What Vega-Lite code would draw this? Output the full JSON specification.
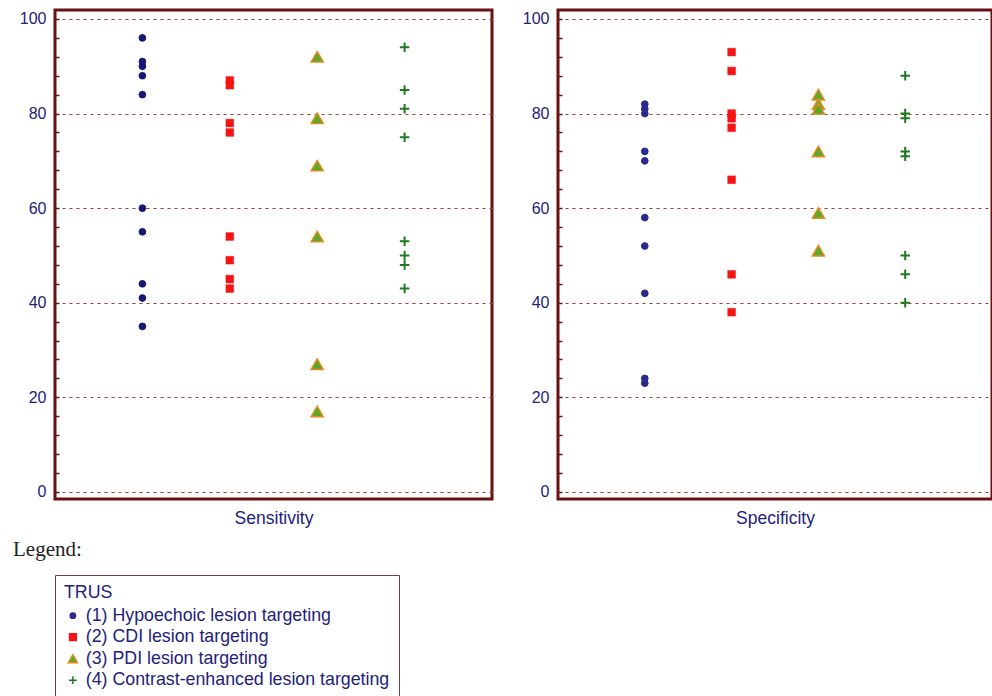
{
  "$schema": "https://vega.github.io/schema/vega-lite/v6.json",
  "padding": {"left": 13, "top": 8, "right": 0, "bottom": 0},
  "background": "white",
  "datasets": {
    "pts": [
      {"m": "Sensitivity", "g": "(1) Hypoechoic lesion targeting", "v": 96},
      {"m": "Sensitivity", "g": "(1) Hypoechoic lesion targeting", "v": 91},
      {"m": "Sensitivity", "g": "(1) Hypoechoic lesion targeting", "v": 90},
      {"m": "Sensitivity", "g": "(1) Hypoechoic lesion targeting", "v": 88},
      {"m": "Sensitivity", "g": "(1) Hypoechoic lesion targeting", "v": 84},
      {"m": "Sensitivity", "g": "(1) Hypoechoic lesion targeting", "v": 60},
      {"m": "Sensitivity", "g": "(1) Hypoechoic lesion targeting", "v": 55},
      {"m": "Sensitivity", "g": "(1) Hypoechoic lesion targeting", "v": 44},
      {"m": "Sensitivity", "g": "(1) Hypoechoic lesion targeting", "v": 41},
      {"m": "Sensitivity", "g": "(1) Hypoechoic lesion targeting", "v": 35},
      {"m": "Sensitivity", "g": "(2) CDI lesion targeting", "v": 87},
      {"m": "Sensitivity", "g": "(2) CDI lesion targeting", "v": 86},
      {"m": "Sensitivity", "g": "(2) CDI lesion targeting", "v": 78},
      {"m": "Sensitivity", "g": "(2) CDI lesion targeting", "v": 76},
      {"m": "Sensitivity", "g": "(2) CDI lesion targeting", "v": 54},
      {"m": "Sensitivity", "g": "(2) CDI lesion targeting", "v": 49},
      {"m": "Sensitivity", "g": "(2) CDI lesion targeting", "v": 45},
      {"m": "Sensitivity", "g": "(2) CDI lesion targeting", "v": 43},
      {"m": "Sensitivity", "g": "(3) PDI lesion targeting", "v": 92},
      {"m": "Sensitivity", "g": "(3) PDI lesion targeting", "v": 79},
      {"m": "Sensitivity", "g": "(3) PDI lesion targeting", "v": 69},
      {"m": "Sensitivity", "g": "(3) PDI lesion targeting", "v": 54},
      {"m": "Sensitivity", "g": "(3) PDI lesion targeting", "v": 27},
      {"m": "Sensitivity", "g": "(3) PDI lesion targeting", "v": 17},
      {"m": "Sensitivity", "g": "(4) Contrast-enhanced lesion targeting", "v": 94},
      {"m": "Sensitivity", "g": "(4) Contrast-enhanced lesion targeting", "v": 85},
      {"m": "Sensitivity", "g": "(4) Contrast-enhanced lesion targeting", "v": 81},
      {"m": "Sensitivity", "g": "(4) Contrast-enhanced lesion targeting", "v": 75},
      {"m": "Sensitivity", "g": "(4) Contrast-enhanced lesion targeting", "v": 53},
      {"m": "Sensitivity", "g": "(4) Contrast-enhanced lesion targeting", "v": 50},
      {"m": "Sensitivity", "g": "(4) Contrast-enhanced lesion targeting", "v": 48},
      {"m": "Sensitivity", "g": "(4) Contrast-enhanced lesion targeting", "v": 43},
      {"m": "Specificity", "g": "(1) Hypoechoic lesion targeting", "v": 82},
      {"m": "Specificity", "g": "(1) Hypoechoic lesion targeting", "v": 81},
      {"m": "Specificity", "g": "(1) Hypoechoic lesion targeting", "v": 80},
      {"m": "Specificity", "g": "(1) Hypoechoic lesion targeting", "v": 72},
      {"m": "Specificity", "g": "(1) Hypoechoic lesion targeting", "v": 70},
      {"m": "Specificity", "g": "(1) Hypoechoic lesion targeting", "v": 58},
      {"m": "Specificity", "g": "(1) Hypoechoic lesion targeting", "v": 52},
      {"m": "Specificity", "g": "(1) Hypoechoic lesion targeting", "v": 42},
      {"m": "Specificity", "g": "(1) Hypoechoic lesion targeting", "v": 24},
      {"m": "Specificity", "g": "(1) Hypoechoic lesion targeting", "v": 23},
      {"m": "Specificity", "g": "(2) CDI lesion targeting", "v": 93},
      {"m": "Specificity", "g": "(2) CDI lesion targeting", "v": 89},
      {"m": "Specificity", "g": "(2) CDI lesion targeting", "v": 80},
      {"m": "Specificity", "g": "(2) CDI lesion targeting", "v": 79},
      {"m": "Specificity", "g": "(2) CDI lesion targeting", "v": 77},
      {"m": "Specificity", "g": "(2) CDI lesion targeting", "v": 66},
      {"m": "Specificity", "g": "(2) CDI lesion targeting", "v": 46},
      {"m": "Specificity", "g": "(2) CDI lesion targeting", "v": 38},
      {"m": "Specificity", "g": "(3) PDI lesion targeting", "v": 84},
      {"m": "Specificity", "g": "(3) PDI lesion targeting", "v": 82},
      {"m": "Specificity", "g": "(3) PDI lesion targeting", "v": 81},
      {"m": "Specificity", "g": "(3) PDI lesion targeting", "v": 72},
      {"m": "Specificity", "g": "(3) PDI lesion targeting", "v": 59},
      {"m": "Specificity", "g": "(3) PDI lesion targeting", "v": 51},
      {"m": "Specificity", "g": "(4) Contrast-enhanced lesion targeting", "v": 88},
      {"m": "Specificity", "g": "(4) Contrast-enhanced lesion targeting", "v": 80},
      {"m": "Specificity", "g": "(4) Contrast-enhanced lesion targeting", "v": 79},
      {"m": "Specificity", "g": "(4) Contrast-enhanced lesion targeting", "v": 72},
      {"m": "Specificity", "g": "(4) Contrast-enhanced lesion targeting", "v": 71},
      {"m": "Specificity", "g": "(4) Contrast-enhanced lesion targeting", "v": 50},
      {"m": "Specificity", "g": "(4) Contrast-enhanced lesion targeting", "v": 46},
      {"m": "Specificity", "g": "(4) Contrast-enhanced lesion targeting", "v": 40}
    ]
  },
  "vconcat": [
    {
      "hconcat": [
        {
          "width": 437,
          "height": 489,
          "data": {"name": "pts"},
          "transform": [{"filter": "datum.m == 'Sensitivity'"}],
          "mark": {"type": "point", "filled": true, "opacity": 1},
          "encoding": {
            "x": {"field": "g", "type": "nominal", "sort": null,
              "scale": {"type": "point", "padding": 1},
              "axis": {"title": "Sensitivity", "labels": false, "ticks": false, "domain": false, "grid": false}},
            "y": {"field": "v", "type": "quantitative",
              "scale": {"domain": [-1.5, 101.9], "nice": false, "zero": false},
              "axis": {"title": null,
                "values": [0, 4, 8, 12, 16, 20, 24, 28, 32, 36, 40, 44, 48, 52, 56, 60, 64, 68, 72, 76, 80, 84, 88, 92, 96, 100],
                "labelExpr": "datum.value % 20 == 0 ? datum.label : ''",
                "grid": true,
                "gridOpacity": {"condition": {"test": "datum.value % 20 == 0", "value": 1}, "value": 0}}},
            "fill": {"field": "g", "type": "nominal", "legend": null,
              "scale": {"domain": ["(1) Hypoechoic lesion targeting", "(2) CDI lesion targeting", "(3) PDI lesion targeting", "(4) Contrast-enhanced lesion targeting"],
                "range": ["#16167a", "#f51414", "#5aaa2a", "#1e7a1e"]}},
            "stroke": {"field": "g", "type": "nominal", "legend": null,
              "scale": {"domain": ["(1) Hypoechoic lesion targeting", "(2) CDI lesion targeting", "(3) PDI lesion targeting", "(4) Contrast-enhanced lesion targeting"],
                "range": ["#16167a", "#f51414", "#e8891e", "#1e7a1e"]}},
            "shape": {"field": "g", "type": "nominal", "legend": null,
              "scale": {"domain": ["(1) Hypoechoic lesion targeting", "(2) CDI lesion targeting", "(3) PDI lesion targeting", "(4) Contrast-enhanced lesion targeting"],
                "range": ["circle", "square", "triangle-up", "M-1,0H1M0,-1V1"]}},
            "size": {"field": "g", "type": "nominal", "legend": null,
              "scale": {"type": "ordinal", "domain": ["(1) Hypoechoic lesion targeting", "(2) CDI lesion targeting", "(3) PDI lesion targeting", "(4) Contrast-enhanced lesion targeting"],
                "range": [45, 60, 150, 90]}},
            "strokeWidth": {"field": "g", "type": "nominal", "legend": null,
              "scale": {"type": "ordinal", "domain": ["(1) Hypoechoic lesion targeting", "(2) CDI lesion targeting", "(3) PDI lesion targeting", "(4) Contrast-enhanced lesion targeting"],
                "range": [1, 0.5, 1.4, 2]}}
          }
        },
        {
          "width": 434,
          "height": 489,
          "data": {"name": "pts"},
          "transform": [{"filter": "datum.m == 'Specificity'"}],
          "mark": {"type": "point", "filled": true, "opacity": 1},
          "encoding": {
            "x": {"field": "g", "type": "nominal", "sort": null,
              "scale": {"type": "point", "padding": 1},
              "axis": {"title": "Specificity", "labels": false, "ticks": false, "domain": false, "grid": false}},
            "y": {"field": "v", "type": "quantitative",
              "scale": {"domain": [-1.5, 101.9], "nice": false, "zero": false},
              "axis": {"title": null,
                "values": [0, 4, 8, 12, 16, 20, 24, 28, 32, 36, 40, 44, 48, 52, 56, 60, 64, 68, 72, 76, 80, 84, 88, 92, 96, 100],
                "labelExpr": "datum.value % 20 == 0 ? datum.label : ''",
                "grid": true,
                "gridOpacity": {"condition": {"test": "datum.value % 20 == 0", "value": 1}, "value": 0}}},
            "fill": {"field": "g", "type": "nominal", "legend": null,
              "scale": {"domain": ["(1) Hypoechoic lesion targeting", "(2) CDI lesion targeting", "(3) PDI lesion targeting", "(4) Contrast-enhanced lesion targeting"],
                "range": ["#2a2a8e", "#f51414", "#5aaa2a", "#1e7a1e"]}},
            "stroke": {"field": "g", "type": "nominal", "legend": null,
              "scale": {"domain": ["(1) Hypoechoic lesion targeting", "(2) CDI lesion targeting", "(3) PDI lesion targeting", "(4) Contrast-enhanced lesion targeting"],
                "range": ["#2a2a8e", "#f51414", "#e8891e", "#1e7a1e"]}},
            "shape": {"field": "g", "type": "nominal", "legend": null,
              "scale": {"domain": ["(1) Hypoechoic lesion targeting", "(2) CDI lesion targeting", "(3) PDI lesion targeting", "(4) Contrast-enhanced lesion targeting"],
                "range": ["circle", "square", "triangle-up", "M-1,0H1M0,-1V1"]}},
            "size": {"field": "g", "type": "nominal", "legend": null,
              "scale": {"type": "ordinal", "domain": ["(1) Hypoechoic lesion targeting", "(2) CDI lesion targeting", "(3) PDI lesion targeting", "(4) Contrast-enhanced lesion targeting"],
                "range": [45, 60, 150, 90]}},
            "strokeWidth": {"field": "g", "type": "nominal", "legend": null,
              "scale": {"type": "ordinal", "domain": ["(1) Hypoechoic lesion targeting", "(2) CDI lesion targeting", "(3) PDI lesion targeting", "(4) Contrast-enhanced lesion targeting"],
                "range": [1, 0.5, 1.4, 2]}}
          }
        }
      ],
      "spacing": 26,
      "resolve": {
        "scale": {"x": "independent", "y": "independent", "fill": "independent", "stroke": "independent", "shape": "independent", "size": "independent", "strokeWidth": "independent"},
        "axis": {"x": "independent", "y": "independent"},
        "legend": {"fill": "independent", "stroke": "independent", "shape": "independent", "size": "independent", "strokeWidth": "independent"}
      }
    },
    {
      "width": 400,
      "height": 110,
      "data": {"values": []},
      "mark": {"type": "point", "filled": true, "opacity": 1, "strokeWidth": 1.5},
      "view": {"stroke": null},
      "title": {"text": "Legend:", "anchor": "start", "font": "Liberation Serif", "fontSize": 21, "fontWeight": "normal", "color": "#222222", "frame": "group", "offset": 15, "dx": -42},
      "encoding": {
        "fill": {"field": "g", "type": "nominal", "title": "TRUS",
          "scale": {"domain": ["(1) Hypoechoic lesion targeting", "(2) CDI lesion targeting", "(3) PDI lesion targeting", "(4) Contrast-enhanced lesion targeting"],
            "range": ["#2a2a8e", "#f51414", "#5aaa2a", "#1e7a1e"]},
          "legend": {"orient": "top-left", "offset": 0, "strokeColor": "#7a3a3a", "padding": 9,
            "titleFontSize": 17.8, "titleFontWeight": "normal", "titleColor": "#22227a",
            "labelFontSize": 17.8, "labelColor": "#22227a", "symbolStrokeWidth": 1.5,
            "rowPadding": 2.5, "labelLimit": 400}},
        "stroke": {"field": "g", "type": "nominal", "title": "TRUS",
          "scale": {"domain": ["(1) Hypoechoic lesion targeting", "(2) CDI lesion targeting", "(3) PDI lesion targeting", "(4) Contrast-enhanced lesion targeting"],
            "range": ["#2a2a8e", "#f51414", "#e8891e", "#1e7a1e"]}},
        "shape": {"field": "g", "type": "nominal", "title": "TRUS",
          "scale": {"domain": ["(1) Hypoechoic lesion targeting", "(2) CDI lesion targeting", "(3) PDI lesion targeting", "(4) Contrast-enhanced lesion targeting"],
            "range": ["circle", "square", "triangle-up", "M-1,0H1M0,-1V1"]}},
        "size": {"field": "g", "type": "nominal", "title": "TRUS",
          "scale": {"type": "ordinal", "domain": ["(1) Hypoechoic lesion targeting", "(2) CDI lesion targeting", "(3) PDI lesion targeting", "(4) Contrast-enhanced lesion targeting"],
            "range": [28, 45, 85, 60]}}
      }
    }
  ],
  "spacing": 10,
  "resolve": {
    "scale": {"fill": "independent", "stroke": "independent", "shape": "independent", "size": "independent", "strokeWidth": "independent"},
    "legend": {"fill": "independent", "stroke": "independent", "shape": "independent", "size": "independent"}
  },
  "config": {
    "font": "Liberation Sans",
    "view": {"stroke": "#6b1010", "strokeWidth": 3},
    "axisY": {
      "gridColor": "#9a3a3a",
      "gridDash": [3, 4],
      "gridWidth": 1,
      "tickSize": -4,
      "tickColor": "#6b1010",
      "tickWidth": 1.5,
      "domain": false,
      "labelFontSize": 16,
      "labelColor": "#22227a",
      "labelPadding": 13
    },
    "axisX": {"titleFontSize": 17.5, "titleFontWeight": "normal", "titleColor": "#22227a", "titlePadding": 10}
  }
}
